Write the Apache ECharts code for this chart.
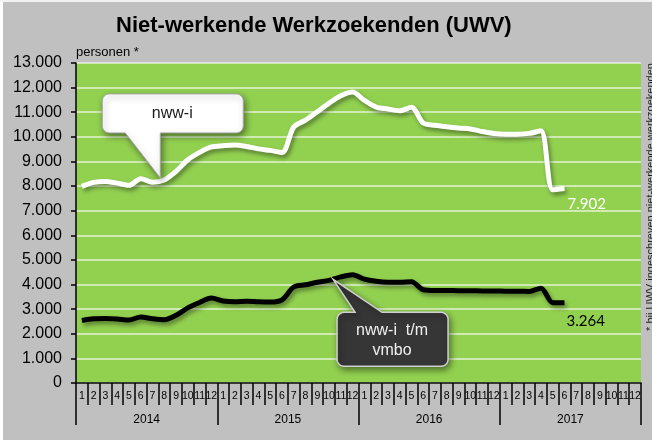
<!DOCTYPE html>
<html><head><meta charset="utf-8">
<script src="https://cdn.jsdelivr.net/npm/echarts@6/dist/echarts.min.js"></script>
<style>html,body{margin:0;padding:0;background:#fff}#c{width:652px;height:445px}</style>
</head><body><div id="c"></div>
<script>
const chartTitle = 'Niet-werkende Werkzoekenden (UWV)';
const unitLabel = 'personen *';
const footnote = '* bij UWV ingeschreven niet-werkende werkzoekenden';
const calloutWhiteText = 'nww-i';
const calloutBlackText = 'nww-i  t/m\nvmbo';
const years = ['2014', '2015', '2016', '2017'];
const months = ['1','2','3','4','5','6','7','8','9','10','11','12',
                '1','2','3','4','5','6','7','8','9','10','11','12',
                '1','2','3','4','5','6','7','8','9','10','11','12',
                '1','2','3','4','5','6','7','8','9','10','11','12'];
// nww-i (white line), Jan 2014 .. Jun 2017
const nwwi = [7990, 8150, 8190, 8120, 8030, 8300, 8160, 8250, 8600, 9070, 9370, 9590,
              9640, 9670, 9610, 9510, 9450, 9360, 10400, 10680, 11020, 11370, 11670, 11820,
              11480, 11210, 11130, 11060, 11200, 10560, 10470, 10410, 10360, 10320, 10220, 10140,
              10110, 10110, 10140, 10250, 7850, 7902];
// nww-i t/m vmbo (black line)
const vmbo = [2540, 2610, 2620, 2600, 2560, 2680, 2610, 2570, 2750, 3050, 3270, 3450,
              3330, 3300, 3320, 3300, 3290, 3380, 3900, 3990, 4090, 4170, 4310, 4400,
              4220, 4130, 4090, 4090, 4110, 3790, 3760, 3760, 3750, 3750, 3740, 3740,
              3730, 3730, 3720, 3850, 3260, 3264];
const yMin = 0, yMax = 13000, yStep = 1000;
const whiteAnchorIdx = 7;   // callout "nww-i" points here
const blackAnchorIdx = 21;  // callout "nww-i t/m vmbo" points here

const FONT = '"Liberation Sans", Arial, sans-serif';
const fmt = v => String(v).replace(/\B(?=(\d{3})+(?!\d))/g, '.');

const chart = echarts.init(document.getElementById('c'), null, {renderer: 'canvas'});
chart.setOption({
  animation: false,
  backgroundColor: '#c0c0c0',
  title: {
    text: chartTitle, left: 111, top: 10,
    textStyle: {fontFamily: FONT, fontSize: 22, fontWeight: 'bold', color: '#000'}
  },
  grid: {left: 76, right: 11, top: 63, bottom: 62, show: true, backgroundColor: '#92d050', borderWidth: 0},
  xAxis: [
    {
      type: 'category', data: months, position: 'bottom', boundaryGap: true,
      axisLine: {show: true, lineStyle: {color: '#000', width: 1.5}},
      axisTick: {show: true, interval: 0, inside: false, length: 22, lineStyle: {color: '#000', width: 1.5}},
      axisLabel: {show: true, interval: 0, fontSize: 10.5, color: '#000', margin: 8, fontFamily: FONT},
      splitLine: {show: false}
    },
    {
      type: 'category', data: years, position: 'bottom', offset: 0, boundaryGap: true,
      axisLine: {show: false},
      axisTick: {show: true, interval: 0, inside: false, length: 42, lineStyle: {color: '#000', width: 1.5}},
      axisLabel: {show: true, interval: 0, fontSize: 12, color: '#000', margin: 31, fontFamily: FONT},
      splitLine: {show: false}
    }
  ],
  yAxis: {
    type: 'value', min: yMin, max: yMax, interval: yStep,
    name: unitLabel, nameLocation: 'end', nameGap: 4,
    nameTextStyle: {align: 'left', fontSize: 13, color: '#000', fontFamily: FONT},
    axisLine: {show: true, lineStyle: {color: '#000', width: 1.5}},
    axisTick: {show: true, length: 5, lineStyle: {color: '#000', width: 1.5}},
    axisLabel: {fontSize: 16, color: '#000', margin: 14, fontFamily: FONT, formatter: v => fmt(v)},
    splitLine: {lineStyle: {color: 'rgba(255,255,255,0.75)', width: 1.5}}
  },
  series: [
    {
      type: 'line', name: 'nww-i', data: nwwi, xAxisIndex: 0, smooth: 0.3, showSymbol: false,
      lineStyle: {color: '#fff', width: 5, shadowColor: 'rgba(0,0,0,0.4)', shadowBlur: 4, shadowOffsetX: 2, shadowOffsetY: 3},
      endLabel: {show: true, formatter: p => fmt(p.value), color: '#fff', fontSize: 15, fontFamily: 'Lato', distance: 3, offset: [0, 16]}
    },
    {
      type: 'line', name: 'nww-i t/m vmbo', data: vmbo, xAxisIndex: 0, smooth: 0.3, showSymbol: false,
      lineStyle: {color: '#000', width: 5, shadowColor: 'rgba(0,0,0,0.4)', shadowBlur: 4, shadowOffsetX: 2, shadowOffsetY: 3},
      endLabel: {show: true, formatter: p => fmt(p.value), color: '#000', fontSize: 15, fontFamily: 'Lato', distance: 2, offset: [0, 19]}
    }
  ]
});

function callout(x1, y1, x2, y2, r, edge, p) {
  const pts = [];
  const arc = (cx, cy, a0, a1) => {
    for (let i = 0; i <= 6; i++) {
      const a = a0 + (a1 - a0) * i / 6;
      pts.push([cx + r * Math.cos(a), cy + r * Math.sin(a)]);
    }
  };
  arc(x1 + r, y1 + r, Math.PI, 1.5 * Math.PI);
  if (edge === 'top') pts.push(...p);
  arc(x2 - r, y1 + r, 1.5 * Math.PI, 2 * Math.PI);
  arc(x2 - r, y2 - r, 0, 0.5 * Math.PI);
  if (edge === 'bottom') pts.push(...p);
  arc(x1 + r, y2 - r, 0.5 * Math.PI, Math.PI);
  return pts;
}

const wp = chart.convertToPixel({xAxisIndex: 0, yAxisIndex: 0}, [whiteAnchorIdx, nwwi[whiteAnchorIdx]]);
const bp = chart.convertToPixel({xAxisIndex: 0, yAxisIndex: 0}, [blackAnchorIdx, vmbo[blackAnchorIdx]]);
const wt = [wp[0] - 4, wp[1] - 2];
const bt = [bp[0] + 4, bp[1] - 1];

const whitePts = callout(wt[0] - 58, wt[1] - 84, wt[0] + 83, wt[1] - 45, 7, 'bottom',
  [[wt[0], wt[1] - 45], wt, [wt[0] - 35, wt[1] - 45]]);
const blackPts = callout(bt[0] + 4, bt[1] + 33, bt[0] + 115, bt[1] + 87, 7, 'top',
  [[bt[0] + 22, bt[1] + 33], bt, [bt[0] + 49, bt[1] + 33]]);

chart.setOption({
  graphic: [
    {type: 'rect', silent: true, shape: {x: 0, y: 0, width: 3, height: 445}, style: {fill: '#fff'}},
    {type: 'rect', silent: true, shape: {x: 0, y: 0, width: 652, height: 2}, style: {fill: '#f2f2f2'}},
    {type: 'rect', silent: true, shape: {x: 0, y: 440, width: 652, height: 5}, style: {fill: '#fff'}},
    {type: 'polygon', z: 50, shape: {points: whitePts},
     style: {fill: '#fff', stroke: '#a6a6a6', lineWidth: 1, shadowColor: 'rgba(0,0,0,0.45)', shadowBlur: 6, shadowOffsetX: 2, shadowOffsetY: 3}},
    {type: 'text', z: 51, x: wt[0] + 12, y: wt[1] - 64,
     style: {text: calloutWhiteText, font: '16px ' + FONT, fill: '#1a1a1a', align: 'center', verticalAlign: 'middle'}},
    {type: 'polygon', z: 50, shape: {points: blackPts},
     style: {fill: '#363636', stroke: '#d0d0d0', lineWidth: 1.5, shadowColor: 'rgba(0,0,0,0.45)', shadowBlur: 6, shadowOffsetX: 2, shadowOffsetY: 3}},
    {type: 'text', z: 51, x: bt[0] + 59, y: bt[1] + 61,
     style: {text: calloutBlackText, font: '16px ' + FONT, fill: '#f0f0f0', align: 'center', verticalAlign: 'middle', lineHeight: 20}},
    {type: 'text', z: 51, x: 651, y: 197, rotation: Math.PI / 2,
     style: {text: footnote, font: '11px ' + FONT, fill: '#222', align: 'center', verticalAlign: 'middle'}}
  ]
});
</script>
</body></html>
